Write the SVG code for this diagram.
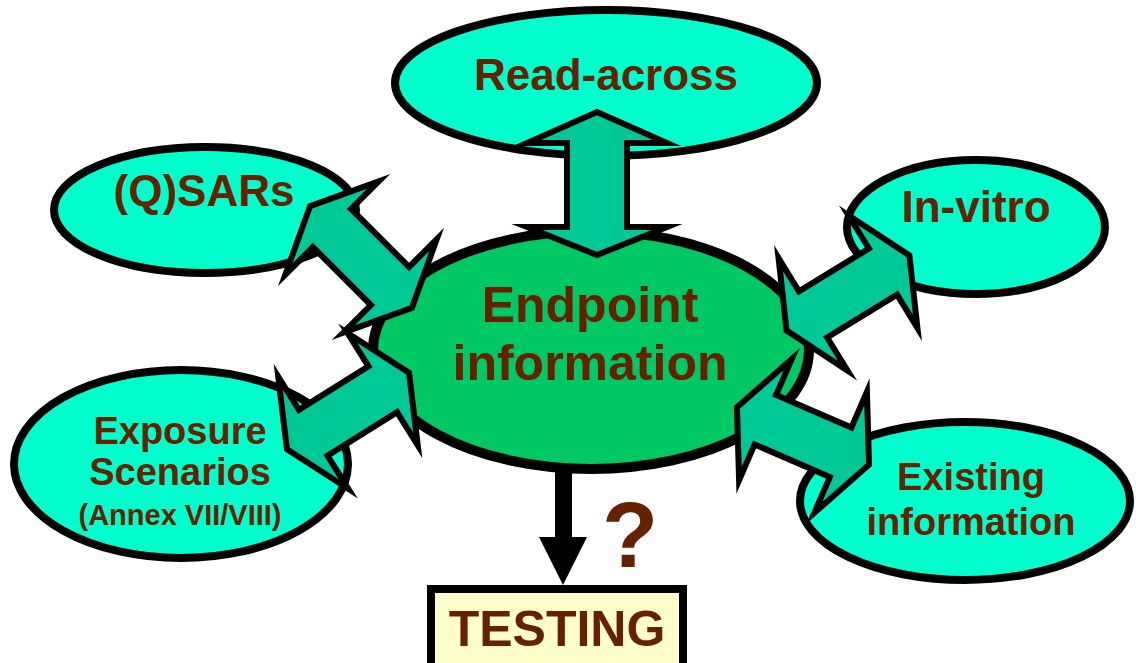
<svg xmlns="http://www.w3.org/2000/svg" width="1136" height="663" viewBox="0 0 1136 663">
<defs>
<style>
.outer{fill:#00FFCC;stroke:#000;stroke-width:8}
.center{fill:#00C864;stroke:#000;stroke-width:10}
.arr{fill:#00C896;stroke:#000;stroke-width:6;stroke-linejoin:miter;stroke-miterlimit:12}
.t{font-family:"Liberation Sans",Arial,sans-serif;font-weight:bold;fill:#662200;text-anchor:middle}
</style>
<polygon id="dbl" points="72,0 41,-66 41,-27 -41,-27 -41,-66 -72,0 -41,66 -41,27 41,27 41,66"/>
</defs>
<rect width="1136" height="663" fill="#fff"/>
<g id="read-across"><ellipse class="outer" cx="606" cy="83" rx="211" ry="73"/><text class="t" x="606" y="90" font-size="44">Read-across</text></g>
<g id="qsars"><ellipse class="outer" cx="205" cy="210" rx="151" ry="63"/><text class="t" x="204" y="206" font-size="44">(Q)SARs</text></g>
<g id="in-vitro"><ellipse class="outer" cx="976" cy="227" rx="129" ry="67"/><text class="t" x="976" y="222" font-size="44">In-vitro</text></g>
<g id="exposure"><ellipse class="outer" cx="181" cy="464" rx="167" ry="94"/><text class="t" x="180" y="444" font-size="38">Exposure</text><text class="t" x="180" y="485" font-size="38">Scenarios</text><text class="t" x="180" y="525" font-size="29">(Annex VII/VIII)</text></g>
<g id="existing"><ellipse class="outer" cx="965" cy="501" rx="165" ry="79"/><text class="t" x="971" y="490" font-size="38">Existing</text><text class="t" x="971" y="535" font-size="38">information</text></g>
<g id="connectors">
<polygon fill="#000" points="555,465 572,465 572,537 587,537 563,585 539,537 555,537"/>
</g>
<g id="endpoint"><ellipse class="center" cx="591" cy="350" rx="218" ry="119"/><text class="t" x="590" y="322" font-size="50">Endpoint</text><text class="t" x="590" y="380" font-size="50">information</text></g>
<g id="arrows">
<polygon class="arr" points="597,112 667,143 627,143 627,227 667,227 597,255 527,227 567,227 567,143 527,143"/>
<use href="#dbl" class="arr" transform="translate(361,257) rotate(45)"/>
<use href="#dbl" class="arr" transform="translate(848,293) rotate(-31.5)"/>
<use href="#dbl" class="arr" transform="translate(348,411) rotate(-32)"/>
<use href="#dbl" class="arr" transform="translate(803,436) rotate(23.5)"/>
</g>
<g id="testing"><rect x="431" y="589" width="252" height="84" fill="#FFFFCC" stroke="#000" stroke-width="8"/><text class="t" x="557" y="646" font-size="50">TESTING</text></g>
<text class="t" x="630" y="567" font-size="92">?</text>
</svg>
